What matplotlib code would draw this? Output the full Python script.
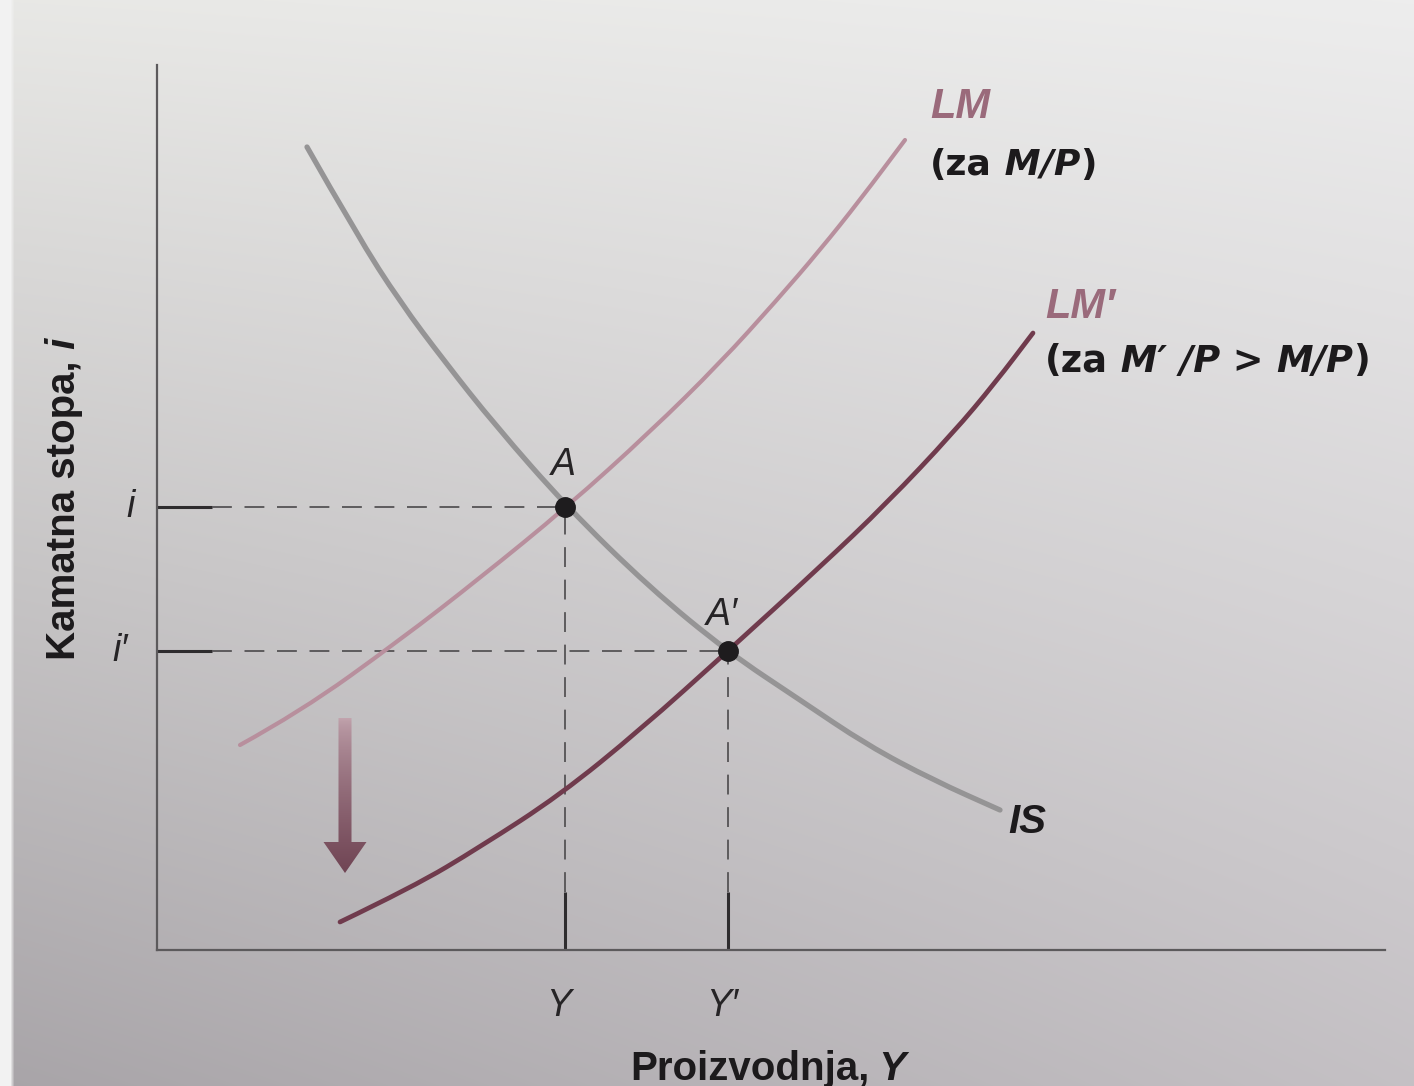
import numpy as np
import matplotlib
matplotlib.use("Agg")
import matplotlib.pyplot as plt
from matplotlib.patches import FancyArrow, PathPatch
from matplotlib.path import Path

plt.rcParams["font.family"] = ["Liberation Sans", "DejaVu Sans"]

# === Curves (output Y, interest rate i; 1 unit = 100 px) ===
is_y = [1.50, 2.00, 2.43, 2.88, 3.38, 4.10, 4.93, 5.71, 6.43, 7.10, 7.76, 8.43]
is_i = [8.03, 7.15, 6.48, 5.88, 5.25, 4.43, 3.62, 2.98, 2.50, 2.05, 1.70, 1.40]

lm_y = [0.83, 1.43, 2.43, 3.23, 4.10, 4.93, 5.63, 6.20, 6.63, 7.03, 7.48]
lm_i = [2.05, 2.38, 3.10, 3.72, 4.43, 5.18, 5.87, 6.50, 7.00, 7.50, 8.10]

lm2_y = [1.83, 2.56, 3.23, 4.03, 4.83, 5.71, 6.63, 7.30, 7.96, 8.38, 8.76]
lm2_i = [0.28, 0.63, 1.03, 1.55, 2.20, 2.99, 3.83, 4.47, 5.17, 5.67, 6.17]

# equilibria A and A'
eq_names = ["A", "A\u2032"]
eq_y = [4.08, 5.71]
eq_i = [4.43, 2.99]
y_ticks = ["Y", "Y\u2032"]
i_ticks = ["i", "i\u2032"]

# downward shift arrow: x, top, tip
shift_arrow = (1.88, 2.32, 0.77)

W, H = 1414, 1086
fig = plt.figure(figsize=(W / 100, H / 100), dpi=100)

# --- photographed page background (light top, darker bottom-left) ---
bg = fig.add_axes([0, 0, 1, 1])
bg.axis("off")
u = np.linspace(0, 1, W)[None, :, None]
v = np.linspace(0, 1, H)[:, None, None]
tl = np.array([0.91, 0.91, 0.90])
tr = np.array([0.93, 0.93, 0.93])
bl = np.array([0.66, 0.645, 0.66])
br = np.array([0.77, 0.755, 0.77])
img = (1 - v) * ((1 - u) * tl + u * tr) + v * ((1 - u) * bl + u * br)
edge = np.clip((14 - np.arange(W)) / 4, 0, 1)[None, :, None]
img = img * (1 - edge) + 0.95 * edge
bg.imshow(img, aspect="auto", extent=(0, 1, 0, 1), zorder=0)
bg.set_xlim(0, 1)
bg.set_ylim(0, 1)

ax = fig.add_axes([157 / W, 136 / H, 1228 / W, 885 / H])
ax.set_facecolor("none")
for side in ["top", "right"]:
    ax.spines[side].set_visible(False)
for side in ["left", "bottom"]:
    ax.spines[side].set_color("#5c5a5c")
    ax.spines[side].set_linewidth(1.6)
ax.set_xticks([])
ax.set_yticks([])


def smooth_curve(xs, ys, color, lw, z):
    # quadratic Bezier through segment midpoints, control points at the read points
    pts = list(zip(xs, ys))
    verts = [pts[0]]
    codes = [Path.MOVETO]
    for k in range(1, len(pts) - 1):
        mid = ((pts[k][0] + pts[k + 1][0]) / 2, (pts[k][1] + pts[k + 1][1]) / 2)
        verts += [pts[k], mid]
        codes += [Path.CURVE3, Path.CURVE3]
    verts.append(pts[-1])
    codes.append(Path.LINETO)
    ax.add_patch(PathPatch(Path(verts, codes), fill=False, ec=color, lw=lw,
                           capstyle="round", joinstyle="round", zorder=z))


# --- guide lines to the axes ---
dash_kw = dict(color="#555355", lw=1.3, dashes=(11, 7))
for yy, ii in zip(eq_y, eq_i):
    ax.plot([0, 0.55], [ii, ii], color="#2e2c2e", lw=2.2, solid_capstyle="butt")
    ax.plot([0.55, yy], [ii, ii], **dash_kw)
    ax.plot([yy, yy], [0, 0.58], color="#2e2c2e", lw=2.2, solid_capstyle="butt")
    ax.plot([yy, yy], [0.58, ii], **dash_kw)

# --- curves ---
smooth_curve(lm_y, lm_i, "#b88f9d", 3.0, 3)
smooth_curve(lm2_y, lm2_i, "#703b4d", 3.4, 3)
smooth_curve(is_y, is_i, "#959495", 3.8, 4)
ax.plot(eq_y, eq_i, "o", color="#1e1c1e", ms=14, zorder=5)

# --- shift arrow with a light-to-dark fill ---
ax_x, ax_top, ax_tip = shift_arrow
arrow = FancyArrow(ax_x, ax_top, 0, ax_tip - ax_top, width=0.13, head_width=0.43,
                   head_length=0.31, length_includes_head=True, lw=0, color="none")
ax.add_patch(arrow)
grad = np.linspace(0, 1, 100)[:, None, None] ** 0.7
top_c = np.array([0.76, 0.64, 0.68])
bot_c = np.array([0.44, 0.27, 0.33])
gimg = (1 - grad) * top_c + grad * bot_c
gi = ax.imshow(gimg, aspect="auto", extent=(ax_x - 0.3, ax_x + 0.3, ax_tip, ax_top),
               zorder=3)
gi.set_clip_path(arrow)
ax.set_xlim(0, 12.28)
ax.set_ylim(0, 8.85)


def rich_text(x, y, parts, size, color, family=None):
    kw = dict(fontsize=size, color=color, fontweight="bold")
    if family:
        kw["family"] = family
    first = ax.text(x, y, parts[0][0], fontstyle=parts[0][1], ha="left",
                    va="baseline", **kw)
    prev = first
    for s, style in parts[1:]:
        prev = ax.annotate(s, xy=(1, 0), xycoords=prev, fontstyle=style,
                           ha="left", va="bottom", **kw)
    return first


def rotated_rich_text(x, y, parts, size, color):
    # stack pieces upward along a shared baseline
    renderer = fig.canvas.get_renderer()
    inv = ax.transData.inverted()
    for s, style in parts:
        t = ax.text(x, y, s, fontsize=size, color=color, fontweight="bold",
                    fontstyle=style, rotation=90, rotation_mode="anchor",
                    ha="left", va="baseline")
        top = t.get_window_extent(renderer).y1
        y = inv.transform((0, top))[1]


label_c = "#9a6a7b"
ink = "#1c1a1c"
wide = ["DejaVu Sans"]
ax.text(7.73, 8.32, "LM", fontsize=30, fontweight="bold", fontstyle="italic", color=label_c)
rich_text(7.73, 7.75, [("(za", "normal"), (" M/P", "italic"), (")", "normal")], 26, ink, wide)
ax.text(8.88, 6.32, "LM\u2032", fontsize=30, fontweight="bold", fontstyle="italic", color=label_c)
rich_text(8.88, 5.78, [("(za", "normal"), (" M\u2032 /P", "italic"), (" > ", "normal"),
                       ("M/P", "italic"), (")", "normal")], 26.5, ink, wide)
ax.text(8.51, 1.17, "IS", fontsize=29, fontweight="bold", fontstyle="italic", color=ink)

ax.text(eq_y[0] - 0.02, eq_i[0] + 0.32, eq_names[0], fontsize=27, fontstyle="italic",
        ha="center", va="baseline", color="#262426")
ax.text(eq_y[1] - 0.06, eq_i[1] + 0.26, eq_names[1], fontsize=27, fontstyle="italic",
        ha="center", va="baseline", color="#262426")

for lab, ii, dx in zip(i_ticks, eq_i, [-0.22, -0.29]):
    ax.text(dx, ii, lab, fontsize=27, fontstyle="italic", ha="right", va="center",
            color="#262426")
for lab, yy in zip(y_ticks, eq_y):
    ax.text(yy - 0.06, -0.56, lab, fontsize=27, fontstyle="italic", ha="center",
            va="center", color="#262426")

# axis titles
rich_text(4.73, -1.30, [("Proizvodnja,", "normal"), (" Y", "italic")], 29, ink)
rotated_rich_text(-0.82, 2.90, [("Kamatna stopa,", "normal"), (" i", "italic")], 29, ink)

fig.savefig("out.png", dpi=100)
